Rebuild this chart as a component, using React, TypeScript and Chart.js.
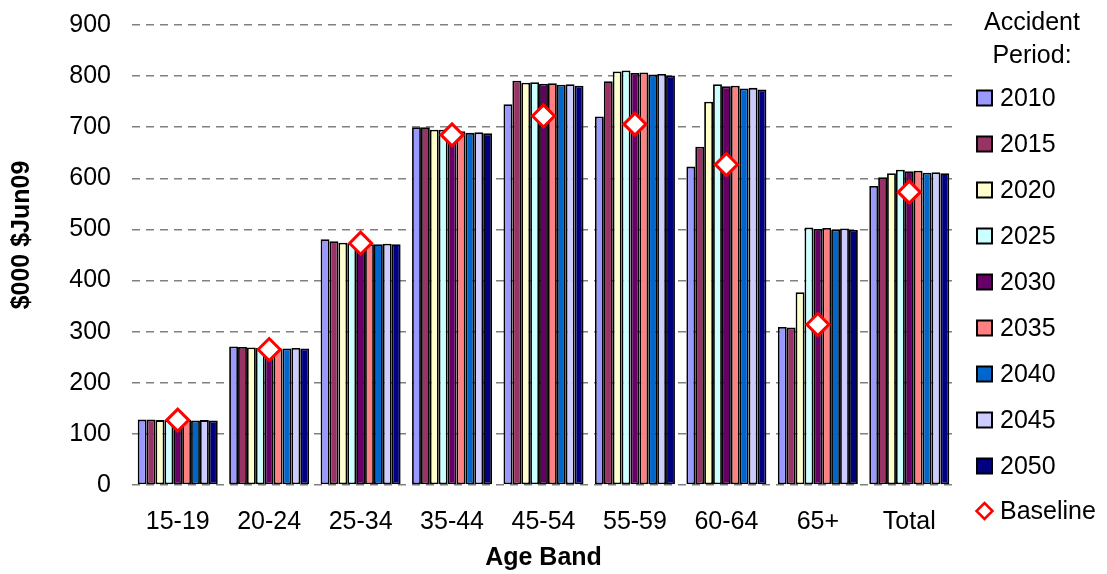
import React, { useEffect, useRef } from "react";
import { Chart, registerables } from "chart.js";

Chart.register(...registerables);

const categories = ["15-19", "20-24", "25-34", "35-44", "45-54", "55-59", "60-64", "65+", "Total"];
const periods = ["2010", "2015", "2020", "2025", "2030", "2035", "2040", "2045", "2050"];

const p2010 = [128, 271, 481, 700, 745, 721, 623, 309, 585];
const p2015 = [128, 270, 477, 700, 791, 790, 662, 308, 602];
const p2020 = [127, 269, 474, 695, 787, 809, 750, 377, 610];
const p2025 = [127, 268, 473, 695, 788, 811, 784, 504, 617];
const p2030 = [127, 268, 472, 693, 785, 806, 780, 501, 614];
const p2035 = [127, 267, 471, 692, 786, 807, 781, 503, 615];
const p2040 = [126, 267, 471, 689, 783, 803, 776, 500, 611];
const p2045 = [127, 268, 472, 690, 784, 804, 777, 502, 612];
const p2050 = [126, 267, 471, 688, 781, 801, 774, 499, 610];
const baseline = [127, 265, 473, 685, 722, 706, 627, 314, 573];

const periodValues = [p2010, p2015, p2020, p2025, p2030, p2035, p2040, p2045, p2050];
const periodColors = [
  "#9999FF",
  "#993366",
  "#FFFFCC",
  "#CCFFFF",
  "#660066",
  "#FF8080",
  "#0066CC",
  "#CCCCFF",
  "#000080",
];

const yTitle = "$000 $Jun09";
const FONT = "'Liberation Sans', Arial, sans-serif";

// Side legend with a two-line heading plus the vertical axis title, drawn on the canvas.
const sideLegend = {
  id: "sideLegend",
  afterDraw(chart: Chart) {
    const ctx = chart.ctx;
    const area = chart.chartArea;
    const boxX = area.right + 22;
    const textX = area.right + 45;
    const titleX = area.right + 77;
    ctx.save();

    // vertical axis title
    ctx.save();
    ctx.translate(22, 235);
    ctx.rotate(-Math.PI / 2);
    ctx.font = `bold 25px ${FONT}`;
    ctx.fillStyle = "#000";
    ctx.textAlign = "center";
    ctx.textBaseline = "middle";
    ctx.fillText(yTitle, 0, 0);
    ctx.restore();

    ctx.fillStyle = "#000";
    ctx.font = `25px ${FONT}`;
    ctx.textAlign = "center";
    ctx.textBaseline = "middle";
    ctx.fillText("Accident", titleX, 23);
    ctx.fillText("Period:", titleX, 56);

    const step = 46;
    const firstY = 98;
    ctx.textAlign = "left";
    periods.forEach((p, i) => {
      const y = firstY + i * step;
      ctx.fillStyle = periodColors[i];
      ctx.fillRect(boxX, y - 7.5, 15, 15);
      ctx.lineWidth = 2;
      ctx.strokeStyle = "#000";
      ctx.strokeRect(boxX, y - 7.5, 15, 15);
      ctx.fillStyle = "#000";
      ctx.fillText(p, textX, y + 1);
    });

    const by = firstY + periods.length * step - 1;
    const cx = boxX + 7.5;
    const r = 8;
    ctx.beginPath();
    ctx.moveTo(cx, by - r);
    ctx.lineTo(cx + r, by);
    ctx.lineTo(cx, by + r);
    ctx.lineTo(cx - r, by);
    ctx.closePath();
    ctx.fillStyle = "#fff";
    ctx.fill();
    ctx.lineWidth = 2.5;
    ctx.strokeStyle = "#FF0000";
    ctx.stroke();
    ctx.fillStyle = "#000";
    ctx.fillText("Baseline", textX, by + 1);
    ctx.restore();
  },
};

export default function App() {
  const canvasRef = useRef<HTMLCanvasElement | null>(null);

  useEffect(() => {
    const canvas = canvasRef.current;
    if (!canvas) return;

    const barSets = periods.map((p, i) => ({
      type: "bar" as const,
      label: p,
      data: periodValues[i],
      backgroundColor: periodColors[i],
      borderColor: "#000",
      borderWidth: 1.8,
      borderSkipped: false,
      categoryPercentage: 0.875,
      barPercentage: 1,
      order: 1,
    }));

    const chart = new Chart(canvas, {
      type: "bar",
      data: {
        labels: categories,
        datasets: [
          ...barSets,
          {
            type: "line" as const,
            label: "Baseline",
            data: baseline,
            showLine: false,
            pointStyle: "rectRot",
            pointRadius: 11,
            pointBorderWidth: 3,
            pointBackgroundColor: "#FFFFFF",
            pointBorderColor: "#FF0000",
            order: 0,
          } as any,
        ],
      },
      options: {
        responsive: false,
        animation: false,
        devicePixelRatio: 1,
        layout: { padding: { left: 0, right: 152, top: 25, bottom: 0 } },
        plugins: {
          legend: { display: false },
          tooltip: { enabled: false },
          title: { display: false },
        },
        scales: {
          x: {
            grid: { display: false, drawTicks: false },
            border: { display: false },
            ticks: {
              color: "#000",
              font: { family: FONT, size: 25 },
              padding: 22,
              maxRotation: 0,
            },
            title: {
              display: true,
              text: "Age Band",
              color: "#000",
              font: { family: FONT, size: 25, weight: "bold" },
              padding: { top: 0, bottom: 1 },
            },
            afterFit: (scale: any) => {
              scale.height = 89;
            },
          },
          y: {
            min: 0,
            max: 900,
            grid: {
              color: "#808080",
              lineWidth: 1.5,
              drawTicks: false,
            },
            border: { display: false, dash: [8, 6] },
            ticks: {
              stepSize: 100,
              color: "#000",
              font: { family: FONT, size: 25 },
              padding: 21,
            },
            title: { display: false },
            afterFit: (scale: any) => {
              scale.width = 132;
              scale.paddingTop = 0;
              scale.paddingBottom = 0;
            },
          },
        },
      },
      plugins: [sideLegend],
    });

    return () => chart.destroy();
  }, []);

  return (
    <div style={{ position: "absolute", left: 0, top: 0, width: 1107, height: 574, background: "#fff" }}>
      <canvas ref={canvasRef} width={1107} height={574} style={{ display: "block" }} />
    </div>
  );
}
